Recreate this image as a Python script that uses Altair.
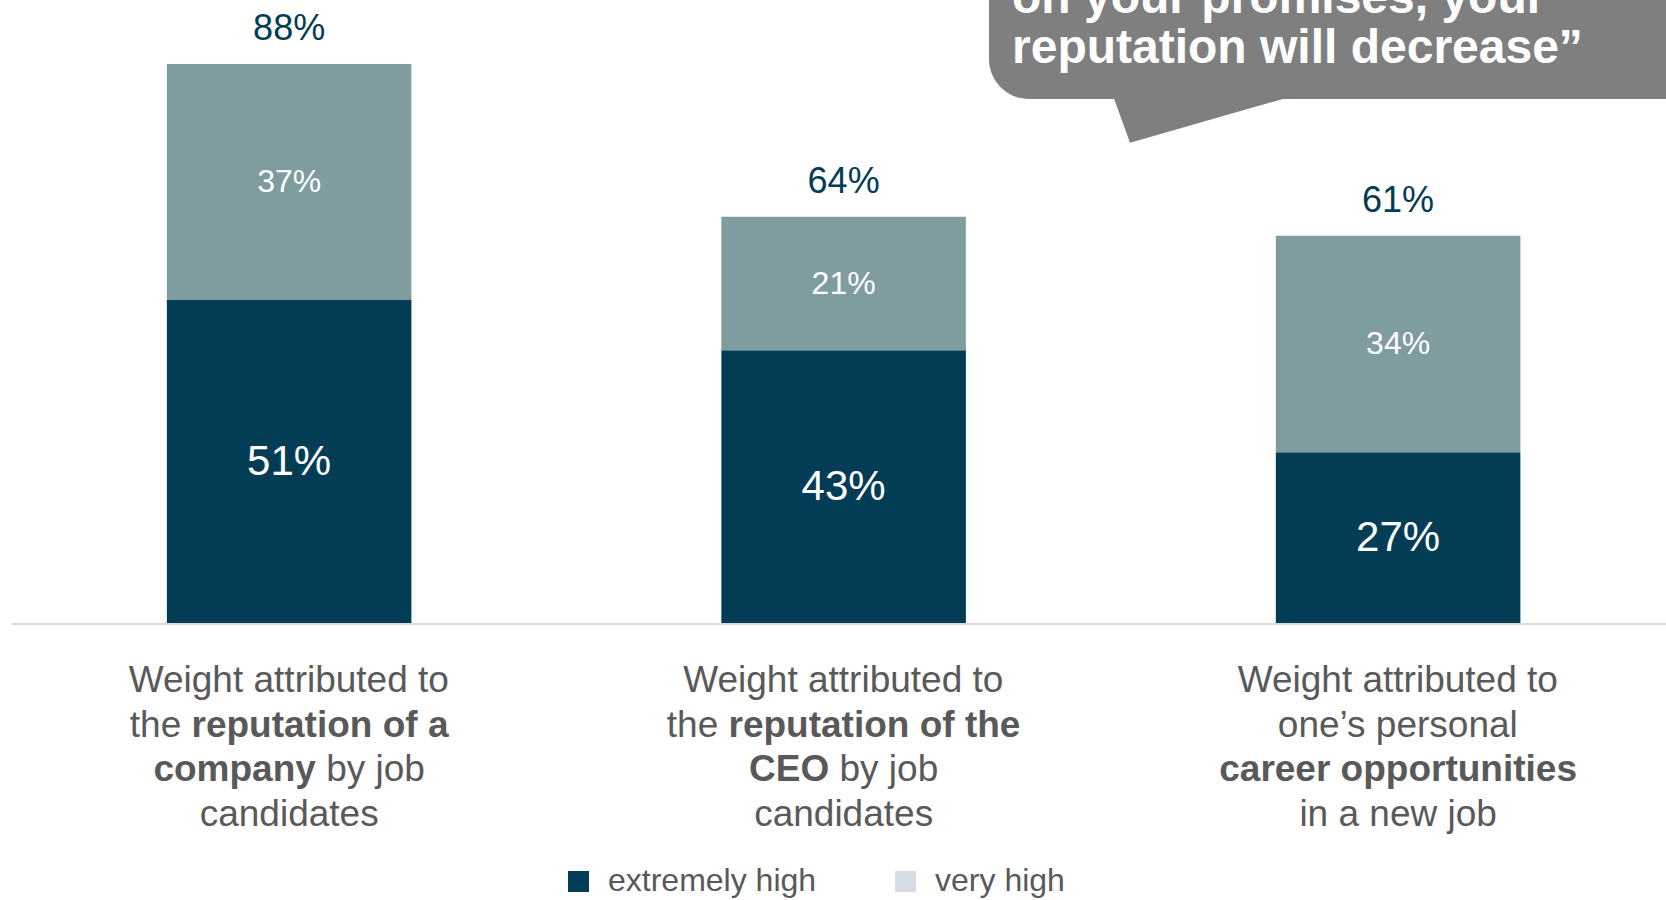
import altair as alt
import pandas as pd

# ---------------- data ----------------
categories = ["company", "ceo", "career"]
series_names = ["extremely high", "very high"]
extremely_high = [51, 43, 27]
very_high = [37, 21, 34]
category_lines = [
    ["Weight attributed to", "the **reputation of a**", "**company** by job", "candidates"],
    ["Weight attributed to", "the **reputation of the**", "**CEO** by job", "candidates"],
    ["Weight attributed to", "one\u2019s personal", "**career opportunities**", "in a new job"],
]
callout_lines = ["on your promises, your", "reputation will decrease\u201d"]

# ---------------- styles ----------------
FONT = "Liberation Sans"
DARK = "#023c55"
TEAL = "#7f9c9f"
LIGHT = "#d6dce4"
GRAY = "#595959"
CALLOUT = "#7f7f7f"
W, H = 1666, 624
legend_swatch_colors = [DARK, LIGHT]

xscale = alt.Scale(domain=categories, paddingInner=0.559, paddingOuter=0.2818, align=0.534)
yscale = alt.Scale(domain=[0, 98.06], nice=False, zero=False)

rows = []
for i, c in enumerate(categories):
    rows.append({"cat": c, "series": series_names[0], "value": extremely_high[i], "order": 0})
    rows.append({"cat": c, "series": series_names[1], "value": very_high[i], "order": 1})
df = pd.DataFrame(rows)
df["label"] = df["value"].astype(str) + "%"
df["y0"] = df.groupby("cat")["value"].cumsum() - df["value"]
df["mid"] = df["y0"] + df["value"] / 2

df_tot = df.groupby("cat", sort=False)["value"].sum().reset_index()
df_tot["label"] = df_tot["value"].astype(str) + "%"

X = alt.X("cat:N", scale=xscale, axis=None)

bars = alt.Chart(df).mark_bar().encode(
    x=X,
    y=alt.Y("value:Q", stack="zero", scale=yscale, axis=None),
    color=alt.Color("series:N", scale=alt.Scale(domain=series_names, range=[DARK, TEAL]), legend=None),
    order=alt.Order("order:Q"),
)

inner = alt.Chart(df).mark_text(font=FONT, color="white", baseline="middle").encode(
    x=X,
    y=alt.Y("mid:Q", scale=yscale, axis=None),
    text="label:N",
    size=alt.condition(alt.datum.series == series_names[0], alt.value(42), alt.value(32)),
)

tot = alt.Chart(df_tot).mark_text(font=FONT, color=DARK, fontSize=36, baseline="middle", dy=-35).encode(
    x=X,
    y=alt.Y("value:Q", scale=yscale, axis=None),
    text="label:N",
)

rule = alt.Chart(pd.DataFrame({"v": [0]})).mark_rule(color="#d9d9d9", strokeWidth=2).encode(
    y=alt.Y("v:Q", scale=yscale, axis=None), x=alt.value(12), x2=alt.value(W)
)

# ---- category labels with mixed bold (Arial / Liberation Sans metrics) ----
REG = {' ': 278, 'W': 944, 'e': 556, 'i': 222, 'g': 556, 'h': 556, 't': 278, 'a': 556, 'r': 333,
       'b': 556, 'u': 556, 'd': 556, 'o': 556, 'y': 500, 'j': 222, 'c': 500, 'n': 556, 's': 500,
       '\u2019': 222, 'p': 556, 'l': 222, 'w': 722, 'm': 833, 'x': 500, 'v': 500}
BOLD = {' ': 278, 'r': 389, 'e': 556, 'p': 611, 'u': 611, 't': 333, 'a': 556, 'i': 278, 'o': 611,
        'n': 611, 'f': 333, 'h': 611, 'c': 556, 'm': 889, 'y': 556, 'C': 722, 'E': 667, 'O': 778,
        's': 556, 'l': 278}
FS = 37
LINE0 = 68
LH = 44.6


def tw(s, bold, size=FS):
    t = BOLD if bold else REG
    return sum(t.get(ch, 556) for ch in s) * size / 1000.0


label_layers = []
for ci, lines in enumerate(category_lines):
    for li, line in enumerate(lines):
        parts = line.split("**")
        segs = [(p, i % 2 == 1) for i, p in enumerate(parts) if p]
        total = sum(tw(p, b) for p, b in segs)
        cursor = -total / 2
        for p, b in segs:
            lead = len(p) - len(p.lstrip(" "))
            start = cursor + tw(" " * lead, b)
            cursor += tw(p, b)
            layer = alt.Chart(pd.DataFrame({"cat": [categories[ci]], "t": [p.strip()], "v": [0]})).mark_text(
                font=FONT, fontSize=FS, fontWeight="bold" if b else "normal", color=GRAY,
                align="left", baseline="alphabetic", dx=start, dy=LINE0 + li * LH,
            ).encode(x=X, y=alt.Y("v:Q", scale=yscale, axis=None), text="t:N")
            label_layers.append(layer)

# ---- callout (decoration) ----
one = pd.DataFrame({"k": [0]})
box = alt.Chart(one).mark_rect(color=CALLOUT, cornerRadiusBottomLeft=40).encode(
    x=alt.value(989), x2=alt.value(W + 40), y=alt.value(-100), y2=alt.value(99)
)
tail = alt.Chart(one).mark_point(
    shape="M-17.3,-4L0,43.7L166.7,-4Z", size=4, filled=True, color=CALLOUT, opacity=1, strokeWidth=0
).encode(x=alt.value(1130), y=alt.value(99))
callout_text = alt.Chart(one).mark_text(
    text=callout_lines, font=FONT, fontSize=48, fontWeight="bold", color="white",
    align="left", baseline="alphabetic", lineHeight=50,
).encode(x=alt.value(1012), y=alt.value(12.7))

# ---- legend (drawn as marks, laid out horizontally, centred under the chart) ----
LEG_FS = 32
SYM = 21
SYM_GAP = 19
COL_GAP = 79
LEG_Y = 881.5
legend_layers = []
lx = 568
for name, col in zip(series_names, legend_swatch_colors):
    d = pd.DataFrame({"series": [name]})
    legend_layers.append(
        alt.Chart(d).mark_square(size=SYM * SYM, color=col, opacity=1, strokeWidth=0).encode(
            x=alt.value(lx + SYM / 2), y=alt.value(LEG_Y)
        )
    )
    legend_layers.append(
        alt.Chart(d).mark_text(font=FONT, fontSize=LEG_FS, color=GRAY, align="left", baseline="middle").encode(
            x=alt.value(lx + SYM + SYM_GAP), y=alt.value(LEG_Y - 1), text="series:N"
        )
    )
    lx += SYM + SYM_GAP + tw(name, False, LEG_FS) + COL_GAP

chart = alt.layer(box, tail, callout_text, bars, inner, tot, rule, *label_layers, *legend_layers).properties(
    width=W, height=H,
    padding={"left": 0, "top": 0, "right": 0, "bottom": 900 - H},
    autosize=alt.AutoSizeParams(type="none"),
    background="white",
).configure_view(stroke=None)

chart.save("out.html", embed_options={"renderer": "svg", "actions": False})
